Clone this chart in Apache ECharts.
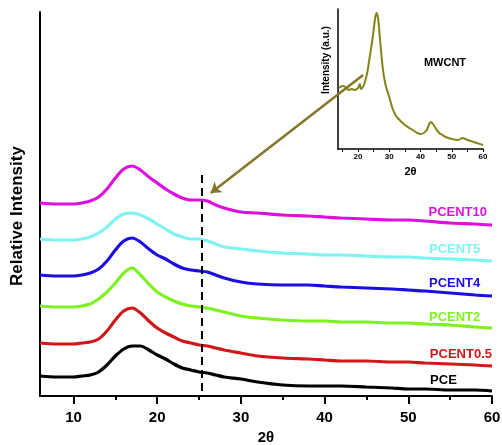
<!DOCTYPE html>
<html>
<head>
<meta charset="utf-8">
<script src="https://cdn.jsdelivr.net/npm/echarts@6/dist/echarts.min.js"></script>
<style>html,body{margin:0;padding:0;background:#fff;}#c{width:502px;height:445px;}</style>
</head>
<body>
<div id="c"></div>
<script>
// ---- data ----
const theta = [6,8,10,11,12,13,14,15,16,17,18,19,20,21,22,23,24,25,26,27,28,30,32,35,38,40,42,45,48,50,52,55,58,60];
const pcent10 = [193,192,192,193,195,199,207,218,227,230,226,219,213,207,202,198,196,196,195,191,188,184,183,181,180,179,178,177,176,176,175,173,172,171];
const pcent5  = [157,156,156,157,159,163,169,177,182,183,181,177,172,167,162,159,157,157,155,152,149,147,145,143,142,141,141,140,139,139,138,137,136,135];
const pcent4  = [121,120,120,121,123,127,135,146,155,158,154,147,141,137,132,128,126,125,124,121,118,114,112,111,111,110,109,108,107,106,105,103,101,100];
const pcent2  = [90,89,89,90,92,97,104,113,123,128,121,112,104,99,95,92,90,89,88,86,84,80,78,76,75,75,74,74,73,73,72,71,69,68];
const pcent05 = [53,52,52,53,54,57,65,76,85,88,83,75,68,63,59,55,53,51,50,48,46,43,40,38,37,36,35,35,34,34,33,32,31,30];
const pce     = [20,19,19,20,21,24,31,40,47,50,50,46,41,37,32,28,26,24,23,21,19,17,14,11,10,10,10,9,8,7,7,6,6,5];

const insetTheta = [14,15,16,17,18,19,20,20.6,21,22,23,23.5,24,24.5,25,25.5,25.9,26.3,26.7,27,27.5,28,28.5,29,30,31,32,33,35,37,39,40,41,42,42.8,43.3,44,45,46,47,48,50,52,53.5,55,57,58,60];
const mwcnt = [61,63,62,59,60,59,61,65,60,65,77,87,97,107,119,131,136,133,123,111,94,79,69,62,52,41,34,30,24,20,16,15,16,19,25,27,25,20,16,14,12,10,9,11,9,7,6,4];

const mainTickLabels = [10,20,30,40,50,60];
const mainMinorTicks = [15,25,35,45,55];
const insetTicks = [15,20,25,30,35,40,45,50,55,60];
const insetTickLabels = [20,30,40,50,60];

const seriesNames = ['PCENT10','PCENT5','PCENT4','PCENT2','PCENT0.5','PCE'];
const seriesValues = [pcent10,pcent5,pcent4,pcent2,pcent05,pce];
const seriesColors = ['#dd11dd','#80f2f2','#1a0fe0','#7ff022','#d01818','#000000'];
// label anchor (right end) in data units
const labelAnchors = [[59.4,184],[58.6,147],[58.6,113],[58.6,79],[60,42],[55.8,16]];
const dashedX = 25.3;
const arrowFrom = [44.6,321], arrowTo = [26.4,203];

const FONT = '"Liberation Sans", Arial, sans-serif';
const chart = echarts.init(document.getElementById('c'), null, {renderer:'canvas'});

const series = seriesNames.map((n,i)=>({
  name:n, type:'line', xAxisIndex:0, yAxisIndex:0,
  data: theta.map((t,j)=>[t, seriesValues[i][j]]),
  showSymbol:false, smooth:0.3,
  lineStyle:{color:seriesColors[i], width:3.2},
  itemStyle:{color:seriesColors[i]},
  markPoint:{
    symbol:'circle', symbolSize:0, silent:true,
    label:{show:true, position:'left', distance:0, formatter:'{b}', color:seriesColors[i],
      fontFamily:FONT, fontWeight:'bold', fontSize:13},
    data:[{name:n, coord:labelAnchors[i]}]
  },
  z:3
}));
series[5].markLine = {
  symbol:['none','none'], silent:true, label:{show:false},
  lineStyle:{color:'#000', type:[8,5], width:2},
  data:[[{coord:[dashedX,5]},{coord:[dashedX,221]}]]
};
series.push({
  type:'line', xAxisIndex:2, yAxisIndex:1,
  data: insetTheta.map((t,j)=>[t, mwcnt[j]]),
  showSymbol:false, smooth:0.3,
  lineStyle:{color:'#838317', width:2}, z:3
});
series.push({
  type:'lines', coordinateSystem:'cartesian2d', xAxisIndex:0, yAxisIndex:0,
  symbol:['none','arrow'], symbolSize:10,
  lineStyle:{color:'#86742a', width:2.5, opacity:1},
  data:[{coords:[arrowFrom, arrowTo]}], z:5
});

chart.setOption({
  animation:false,
  backgroundColor:'#fff',
  grid:[
    {left:40, right:10, top:12, bottom:49, containLabel:false, outerBoundsMode:'none'},
    {left:338, right:19, top:9, bottom:296, containLabel:false, outerBoundsMode:'none'}
  ],
  xAxis:[
    {type:'value', gridIndex:0, min:6, max:60,
     axisLine:{show:true, onZero:false, lineStyle:{color:'#000', width:2}},
     axisTick:{show:true, customValues:mainTickLabels, length:8, lineStyle:{color:'#000', width:2}},
     axisLabel:{show:true, customValues:mainTickLabels, margin:14, color:'#000', fontFamily:FONT, fontWeight:'bold', fontSize:15},
     splitLine:{show:false},
     name:'2θ', nameLocation:'middle', nameGap:34,
     nameTextStyle:{color:'#000', fontFamily:FONT, fontWeight:'bold', fontSize:15}},
    {type:'value', gridIndex:0, min:6, max:60, position:'bottom',
     axisLine:{show:false},
     axisTick:{show:true, customValues:mainMinorTicks, length:4, lineStyle:{color:'#000', width:2}},
     axisLabel:{show:false}, splitLine:{show:false}},
    {type:'value', gridIndex:1, min:13.6, max:60,
     axisLine:{show:true, onZero:false, lineStyle:{color:'#000', width:1.5}},
     axisTick:{show:true, customValues:insetTicks, length:3, lineStyle:{color:'#000', width:1}},
     axisLabel:{show:true, customValues:insetTickLabels, margin:4, color:'#000', fontFamily:FONT, fontWeight:'bold', fontSize:8},
     splitLine:{show:false},
     name:'2θ', nameLocation:'middle', nameGap:17,
     nameTextStyle:{color:'#000', fontFamily:FONT, fontWeight:'bold', fontSize:11}}
  ],
  yAxis:[
    {type:'value', gridIndex:0, min:0, max:384,
     axisLine:{show:true, onZero:false, lineStyle:{color:'#000', width:2}},
     axisTick:{show:false}, axisLabel:{show:false}, splitLine:{show:false}},
    {type:'value', gridIndex:1, min:0, max:140,
     axisLine:{show:true, onZero:false, lineStyle:{color:'#000', width:1.5}},
     axisTick:{show:false}, axisLabel:{show:false}, splitLine:{show:false}}
  ],
  graphic:[
    {type:'text', x:17, y:216, rotation:Math.PI/2,
     style:{text:'Relative Intensity', align:'center', verticalAlign:'middle', fill:'#000',
       font:'bold 17px ' + FONT}},
    {type:'text', x:326, y:60, rotation:Math.PI/2,
     style:{text:'Intensity (a.u.)', align:'center', verticalAlign:'middle', fill:'#000',
       font:'bold 10px ' + FONT}},
    {type:'text', x:445, y:63,
     style:{text:'MWCNT', align:'center', verticalAlign:'middle', fill:'#000',
       font:'bold 11px ' + FONT}}
  ],
  series:series
});
</script>
</body>
</html>
